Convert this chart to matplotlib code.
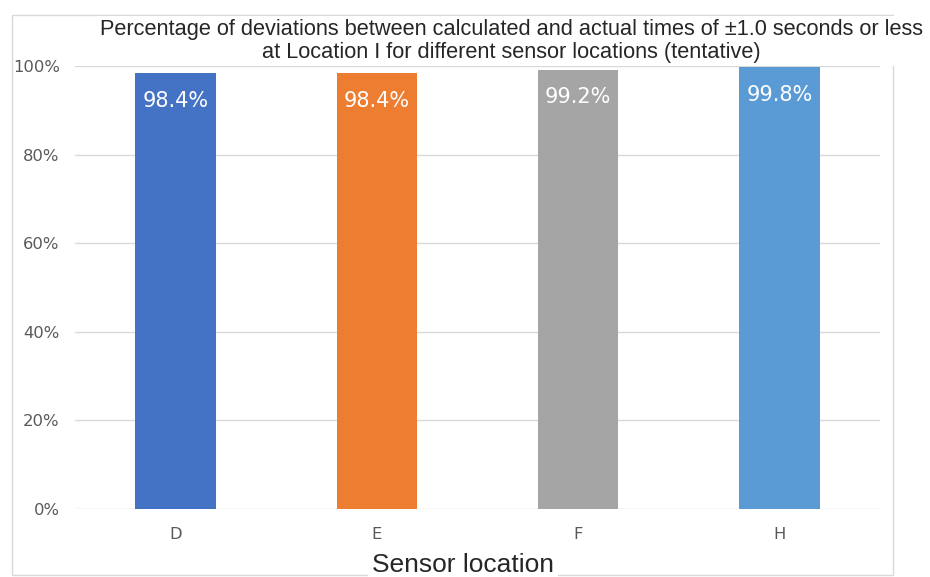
import matplotlib.pyplot as plt
from matplotlib.patches import Rectangle
from matplotlib.ticker import PercentFormatter

# data
locations = ["D", "E", "F", "H"]
pct_within = [98.4, 98.4, 99.2, 99.8]
bar_colors = ["#4472C4", "#ED7D31", "#A5A5A5", "#5B9BD5"]

title = ("Percentage of deviations between calculated and actual times of \u00b11.0 seconds or less\n"
         "at Location I for different sensor locations (tentative)")

fig = plt.figure(figsize=(9.3, 5.77), dpi=100)
ax = fig.add_axes([75 / 930, 1 - 509 / 577, 805 / 930, 443 / 577])

# outer chart frame
fig.patches.append(Rectangle((12 / 930, 1 - 575 / 577), 881 / 930, 560 / 577,
                             transform=fig.transFigure, fill=False,
                             edgecolor="#D9D9D9", linewidth=1, zorder=0))

bars = ax.bar(locations, pct_within, width=0.4, color=bar_colors, zorder=3)
for b, v in zip(bars, pct_within):
    ax.annotate(f"{v:.1f}%", (b.get_x() + b.get_width() / 2, v),
                xytext=(0, -20), textcoords="offset points",
                ha="center", va="center", color="white", fontsize=15,
                family="DejaVu Sans", zorder=4)

ax.set_ylim(0, 100)
ax.set_xlim(-0.5, 3.5)
ax.set_yticks(range(0, 101, 20))
ax.yaxis.set_major_formatter(PercentFormatter(decimals=0))
ax.grid(axis="y", color="#D9D9D9", linewidth=1, zorder=0)
for s in ax.spines.values():
    s.set_visible(False)
ax.tick_params(axis="both", length=0, colors="#595959", labelsize=11.8)
ax.tick_params(axis="y", pad=11)
ax.tick_params(axis="x", pad=13)

fig.text(511 / 930, 1 - 41 / 577, title, ha="center", va="center", fontsize=15.7,
         family="Liberation Sans", color="#262626", linespacing=1.15,
         bbox=dict(facecolor="white", edgecolor="none", pad=2))
fig.text(463 / 930, 1 - 565 / 577, "Sensor location", ha="center", va="center",
         fontsize=19, family="Liberation Sans", color="#262626",
         bbox=dict(facecolor="white", edgecolor="none", pad=3))

fig.savefig("out.png", dpi=100)
